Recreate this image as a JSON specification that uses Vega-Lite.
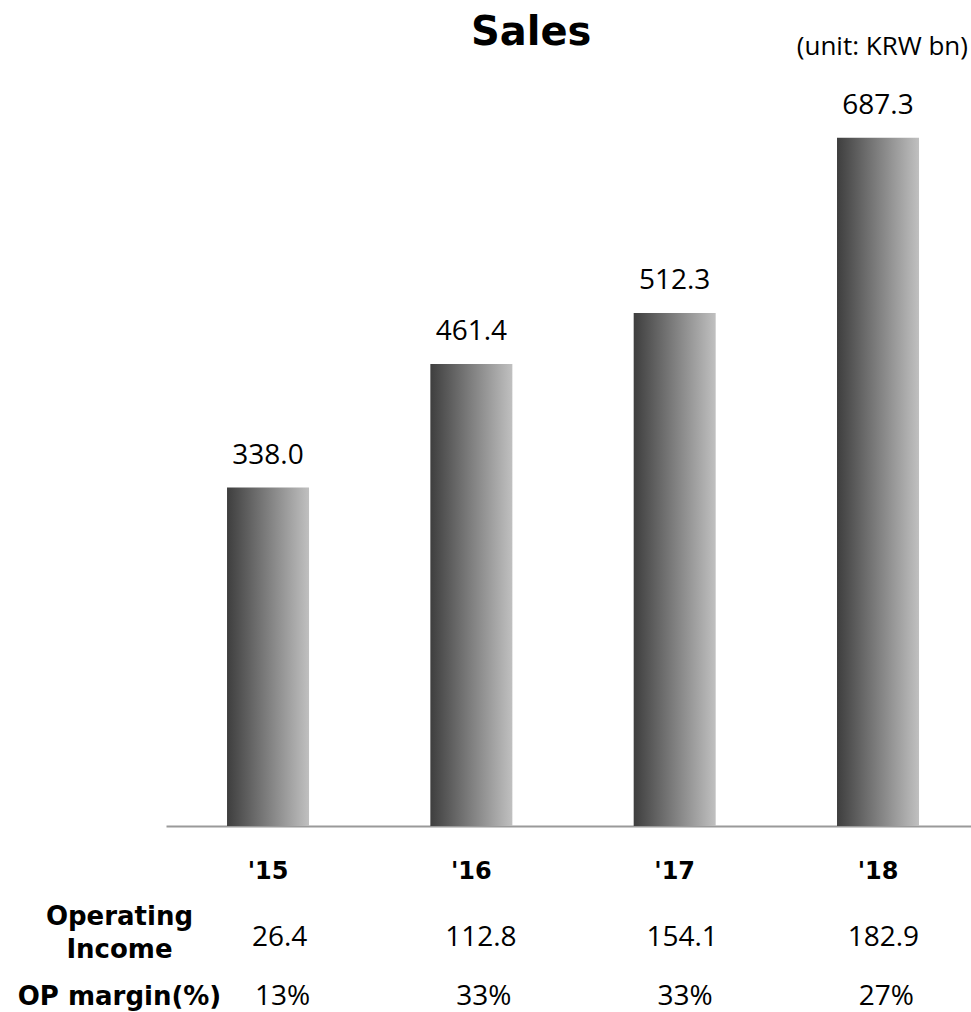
{
  "$schema": "https://vega.github.io/schema/vega-lite/v6.json",
  "padding": {"left": 17, "top": 13, "right": 0, "bottom": 0},
  "background": "white",
  "title": {"text": "Sales", "font": "DejaVu Sans", "fontSize": 40, "fontWeight": "bold", "color": "#000000", "anchor": "middle", "dx": 37, "offset": -19},
  "datasets": {
    "sales": [
      {"year": "'15", "sales": 338.0},
      {"year": "'16", "sales": 461.4},
      {"year": "'17", "sales": 512.3},
      {"year": "'18", "sales": 687.3}
    ],
    "table": [
      {"year": "'15", "metric": "Operating Income", "value": "26.4"},
      {"year": "'16", "metric": "Operating Income", "value": "112.8"},
      {"year": "'17", "metric": "Operating Income", "value": "154.1"},
      {"year": "'18", "metric": "Operating Income", "value": "182.9"},
      {"year": "'15", "metric": "OP margin(%)", "value": "13%"},
      {"year": "'16", "metric": "OP margin(%)", "value": "33%"},
      {"year": "'17", "metric": "OP margin(%)", "value": "33%"},
      {"year": "'18", "metric": "OP margin(%)", "value": "27%"}
    ]
  },
  "vconcat": [
    {
      "width": 805,
      "height": 751,
      "title": {"text": "(unit: KRW bn)", "font": "Open Sans", "fontSize": 26, "fontWeight": "normal", "color": "#000000", "anchor": "end", "offset": 15, "dx": -3},
      "data": {"name": "sales"},
      "encoding": {
        "x": {
          "field": "year", "type": "nominal", "sort": null,
          "scale": {"domain": ["'15", "'16", "'17", "'18"], "paddingInner": 0.5967, "paddingOuter": 0.2779, "align": 0.54},
          "axis": {"title": null, "orient": "bottom", "domainColor": "#9a9a9a", "domainWidth": 2, "ticks": false, "labelAngle": 0, "labelFont": "DejaVu Sans", "labelFontSize": 24, "labelFontWeight": "bold", "labelColor": "#000000", "labelPadding": 33}
        }
      },
      "layer": [
        {
          "mark": {"type": "bar", "color": {"gradient": "linear", "x1": 0, "y1": 0, "x2": 1, "y2": 0, "stops": [{"offset": 0, "color": "#3e3e3e"}, {"offset": 1, "color": "#c0c0c0"}]}},
          "encoding": {"y": {"field": "sales", "type": "quantitative", "scale": {"domain": [0, 750], "nice": false}, "axis": null}}
        },
        {
          "mark": {"type": "text", "baseline": "alphabetic", "dy": -24, "font": "Open Sans", "fontSize": 28, "color": "#000000"},
          "encoding": {
            "y": {"field": "sales", "type": "quantitative"},
            "text": {"field": "sales", "type": "quantitative", "format": ".1f"}
          }
        }
      ]
    },
    {
      "width": 805,
      "height": 118,
      "data": {"name": "table"},
      "encoding": {
        "x": {
          "field": "year", "type": "nominal", "sort": null,
          "scale": {"domain": ["'15", "'16", "'17", "'18"], "paddingInner": 0.5967, "paddingOuter": 0.2779, "align": 0.54},
          "axis": null
        },
        "y": {
          "field": "metric", "type": "nominal", "sort": null,
          "scale": {"type": "point", "domain": ["Operating Income", "OP margin(%)"], "padding": 0.5},
          "axis": {"title": null, "domain": false, "ticks": false, "labelAlign": "center", "labelBaseline": "middle", "labelPadding": 47, "labelLimit": 400, "labelFont": "DejaVu Sans", "labelFontSize": 26, "labelFontWeight": "bold", "labelColor": "#000000", "labelLineHeight": 33,
            "labelOffset": {"condition": {"test": "datum.value == 'Operating Income'", "value": -21}, "value": 0},
            "labelExpr": "datum.label == 'Operating Income' ? ['Operating', 'Income'] : datum.label"}
        }
      },
      "layer": [
        {
          "transform": [{"filter": "datum.metric == 'Operating Income'"}],
          "mark": {"type": "text", "font": "Open Sans", "fontSize": 28, "color": "#000000", "dx": 5},
          "encoding": {"text": {"field": "value", "type": "nominal"}}
        },
        {
          "transform": [{"filter": "datum.metric == 'OP margin(%)'"}],
          "mark": {"type": "text", "font": "Open Sans", "fontSize": 28, "color": "#000000", "dx": 8},
          "encoding": {"text": {"field": "value", "type": "nominal"}}
        }
      ]
    }
  ],
  "spacing": 82,
  "bounds": "flush",
  "config": {"view": {"stroke": null}, "axis": {"grid": false}}
}
